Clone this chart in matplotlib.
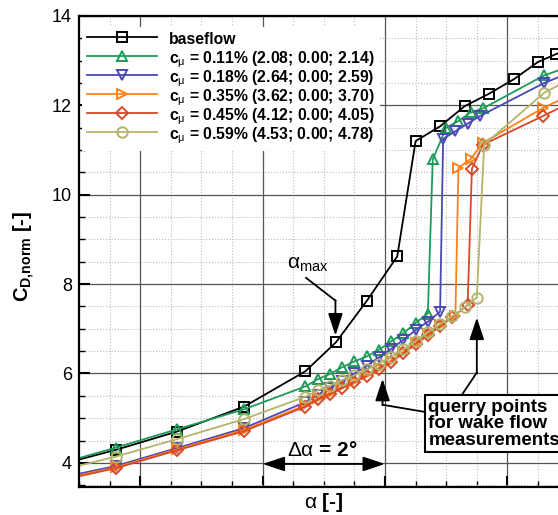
import matplotlib
matplotlib.use('Agg')
import matplotlib.pyplot as plt
import matplotlib.ticker as ticker

plt.rcParams['font.family'] = ['Liberation Sans', 'DejaVu Sans']
plt.rcParams['mathtext.fontset'] = 'custom'
plt.rcParams['mathtext.rm'] = 'Liberation Sans'
plt.rcParams['mathtext.it'] = 'Liberation Sans:italic'
plt.rcParams['mathtext.bf'] = 'Liberation Sans:bold'

# baseflow
alpha_base = [0.6, 1.6, 2.6, 3.7, 4.7, 5.2, 5.7, 6.2, 6.5, 6.9, 7.3, 7.7, 8.1, 8.5, 8.8, 9.2]
cd_base = [3.93, 4.29, 4.70, 5.26, 6.05, 6.70, 7.62, 8.62, 11.20, 11.53, 11.98, 12.26,
           12.58, 12.97, 13.15, 13.35]

# c_mu = 0.11 %
alpha_011 = [0.6, 1.6, 2.6, 3.7, 4.7, 4.9, 5.1, 5.3, 5.5, 5.7, 5.9, 6.1, 6.3, 6.5, 6.7,
             6.78, 7.0, 7.2, 7.4, 7.6, 8.6, 9.6]
cd_011 = [3.95, 4.34, 4.75, 5.20, 5.71, 5.87, 5.99, 6.14, 6.27, 6.38, 6.53, 6.72, 6.90,
          7.13, 7.34, 10.79, 11.50, 11.65, 11.84, 11.93, 12.67, 13.15]

# c_mu = 0.18 %
alpha_018 = [0.6, 1.6, 2.6, 3.7, 4.7, 4.9, 5.1, 5.3, 5.5, 5.7, 5.9, 6.1, 6.3, 6.5, 6.7,
             6.9, 6.95, 7.15, 7.35, 7.55, 8.6, 9.6]
cd_018 = [3.64, 3.93, 4.33, 4.78, 5.36, 5.52, 5.68, 5.84, 6.00, 6.17, 6.36, 6.55, 6.75,
          6.97, 7.16, 7.38, 11.25, 11.42, 11.59, 11.76, 12.50, 13.05]

# c_mu = 0.35 %
alpha_035 = [0.6, 1.6, 2.6, 3.7, 4.7, 4.9, 5.1, 5.3, 5.5, 5.7, 5.9, 6.1, 6.3, 6.5, 6.7,
             6.9, 7.15, 7.2, 7.4, 7.6, 8.58, 9.6]
cd_035 = [3.60, 3.90, 4.30, 4.74, 5.29, 5.45, 5.57, 5.71, 5.84, 5.98, 6.13, 6.29, 6.48,
          6.69, 6.89, 7.09, 7.29, 10.60, 10.80, 11.16, 11.94, 12.60]

# c_mu = 0.45 %
alpha_045 = [0.6, 1.6, 2.6, 3.7, 4.7, 4.9, 5.1, 5.3, 5.5, 5.7, 5.9, 6.1, 6.3, 6.5, 6.7,
             6.9, 7.1, 7.35, 7.42, 7.6, 8.58, 9.6]
cd_045 = [3.58, 3.88, 4.28, 4.71, 5.26, 5.42, 5.54, 5.68, 5.81, 5.95, 6.10, 6.26, 6.45,
          6.66, 6.86, 7.06, 7.26, 7.53, 10.58, 11.12, 11.76, 12.45]

# c_mu = 0.59 %
alpha_059 = [0.6, 1.6, 2.6, 3.7, 4.7, 4.9, 5.1, 5.3, 5.5, 5.7, 5.9, 6.1, 6.3, 6.5, 6.7,
             6.9, 7.1, 7.3, 7.5, 7.62, 8.6, 9.6]
cd_059 = [3.80, 4.14, 4.53, 4.98, 5.48, 5.62, 5.73, 5.85, 5.96, 6.09, 6.22, 6.37, 6.54,
          6.73, 6.92, 7.10, 7.28, 7.48, 7.70, 11.12, 12.28, 13.00]

labels = ['baseflow',
          r'c$_{\mathrm{μ}}$ = 0.11% (2.08; 0.00; 2.14)',
          r'c$_{\mathrm{μ}}$ = 0.18% (2.64; 0.00; 2.59)',
          r'c$_{\mathrm{μ}}$ = 0.35% (3.62; 0.00; 3.70)',
          r'c$_{\mathrm{μ}}$ = 0.45% (4.12; 0.00; 4.05)',
          r'c$_{\mathrm{μ}}$ = 0.59% (4.53; 0.00; 4.78)']
colors = ['black', '#1e9a5a', '#4a48b4', '#ff8218', '#d64a2a', '#b4b46c']
markers = ['s', '^', 'v', '>', 'D', 'o']


def main():
    fig = plt.figure(figsize=(5.58, 5.15), dpi=100)
    ax = fig.add_axes([0.1416, 0.0544, 0.8774, 0.9146])

    series = [(alpha_base, cd_base), (alpha_011, cd_011), (alpha_018, cd_018),
              (alpha_035, cd_035), (alpha_045, cd_045), (alpha_059, cd_059)]
    for (a, c), lab, col, m in zip(series, labels, colors, markers):
        ms = 6 if m == 'D' else 7.5
        ax.plot(a, c, color=col, lw=1.3, marker=m, ms=ms, mfc='none',
                mec=col, mew=1.4, label=lab)

    setup_axes(ax)
    annotate(ax)

    leg = ax.legend(loc='upper left', bbox_to_anchor=(0.0, 0.983),
                    prop={'weight': 'bold', 'size': 11.3}, handlelength=4.5,
                    handleheight=1.25, handletextpad=0.75, labelspacing=-0.10,
                    borderpad=0.3, borderaxespad=0.2, numpoints=1, frameon=True,
                    fancybox=False, framealpha=1.0)
    leg.get_frame().set_edgecolor('none')

    # the plain "baseflow" row is shallower than the subscript rows: even it out
    try:
        first_row = leg._legend_handle_box.get_children()[0].get_children()[0]
        first_row.get_children()[0].ydescent = 5.0
    except (AttributeError, IndexError):
        pass

    fig.savefig('out.png', dpi=100)


def setup_axes(ax):
    ax.set_xlim(1, 9)
    ax.set_ylim(3.46, 14)
    ax.xaxis.set_major_locator(ticker.MultipleLocator(2))
    ax.xaxis.set_minor_locator(ticker.MultipleLocator(0.5))
    ax.yaxis.set_major_locator(ticker.MultipleLocator(2))
    ax.yaxis.set_minor_locator(ticker.MultipleLocator(0.5))
    ax.xaxis.set_major_formatter(ticker.NullFormatter())

    ax.tick_params(which='major', direction='in', length=8, width=1.5, labelsize=13, pad=5)
    ax.tick_params(which='minor', direction='in', length=4, width=1)

    ax.grid(which='major', color='#555555', lw=0.9, ls='-')
    ax.grid(which='minor', color='#bbbbbb', lw=0.8, ls=':')
    ax.set_axisbelow(True)
    for s in ax.spines.values():
        s.set_linewidth(1.6)

    ax.set_xlabel(r'$\mathrm{α}$ [-]', fontsize=15, fontweight='bold', labelpad=-2)
    ax.set_ylabel(r'C$_{\mathbf{D{,}norm}}$ [-]', fontsize=14.5, fontweight='bold')
    ax.yaxis.set_label_coords(-0.086, 0.49)


def annotate(ax):
    head = '-|>,head_length=0.9,head_width=0.3'

    # alpha_max
    ax.text(4.40, 8.43, r'$\mathrm{α_{max}}$', fontsize=15, va='center', ha='left')
    ax.plot([4.71, 5.19], [8.14, 7.63], color='k', lw=1.3)
    ax.annotate('', xy=(5.19, 6.85), xytext=(5.19, 7.64),
                arrowprops=dict(arrowstyle=head, color='k', lw=1.3, mutation_scale=15,
                                shrinkA=0, shrinkB=0))

    # querry points box
    ax.text(6.71, 5.43, 'querry points\nfor wake flow\nmeasurements', fontsize=13.5,
            fontweight='bold', ha='left', va='top', linespacing=0.95, zorder=6,
            bbox=dict(boxstyle='square,pad=0.2', fc='white', ec='k', lw=1.5))
    ax.plot([6.65, 5.96], [5.14, 5.30], color='k', lw=1.3)
    ax.annotate('', xy=(5.96, 5.88), xytext=(5.96, 5.29),
                arrowprops=dict(arrowstyle=head, color='k', lw=1.3, mutation_scale=15,
                                shrinkA=0, shrinkB=0))
    ax.plot([7.27, 7.50], [5.55, 6.02], color='k', lw=1.3)
    ax.annotate('', xy=(7.50, 7.25), xytext=(7.50, 6.01),
                arrowprops=dict(arrowstyle=head, color='k', lw=1.3, mutation_scale=15,
                                shrinkA=0, shrinkB=0))

    # delta alpha
    ax.annotate('', xy=(4.0, 3.975), xytext=(6.0, 3.975),
                arrowprops=dict(arrowstyle='<|-|>,head_length=0.9,head_width=0.3',
                                color='k', lw=1.3, mutation_scale=15,
                                shrinkA=0, shrinkB=0))
    ax.text(4.97, 4.27, r'$\mathrm{Δα}$ = 2°', fontsize=15, fontweight='bold',
            ha='center', va='center')


main()
